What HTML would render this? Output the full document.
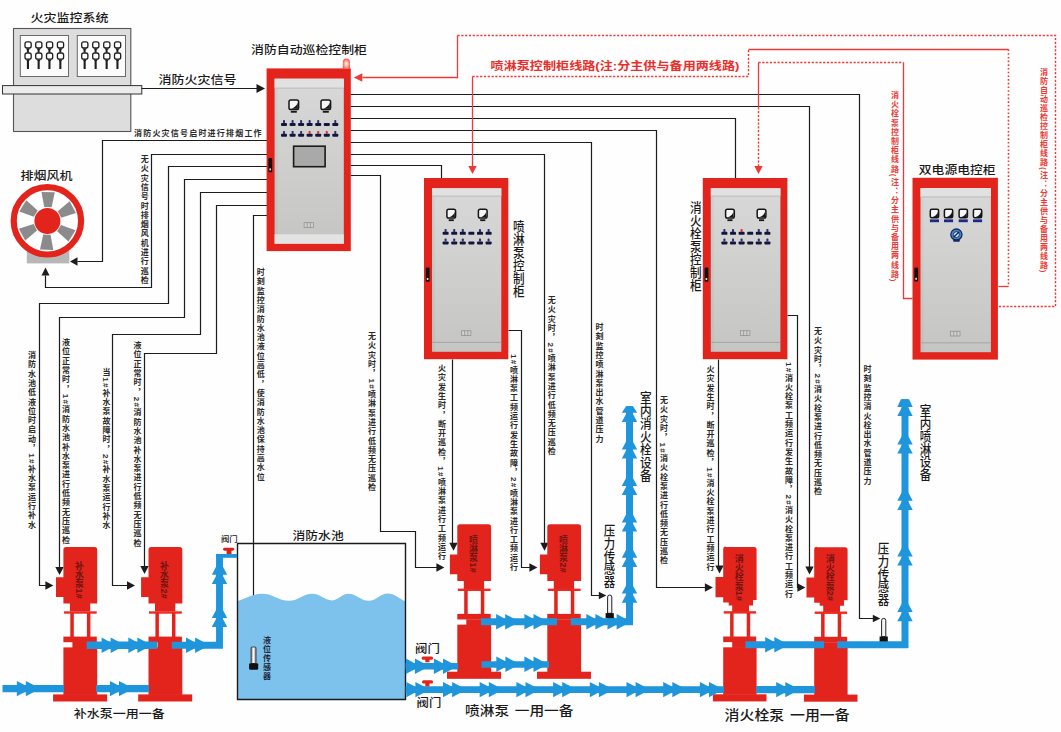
<!DOCTYPE html>
<html lang="zh-CN"><head><meta charset="utf-8"><title>消防自动巡检控制系统图</title>
<style>
html,body{margin:0;padding:0;background:#fff;}
#stage{position:relative;width:1061px;height:732px;overflow:hidden;background:#fefefe;font-family:"Liberation Sans","Noto Sans CJK SC",sans-serif;}
#stage svg{position:absolute;left:0;top:0;}
.h{position:absolute;white-space:nowrap;line-height:1.2;}
.v{position:absolute;writing-mode:vertical-rl;white-space:nowrap;line-height:1.5;width:1.5em;}
</style></head><body>
<div id="stage">
<svg width="1061" height="732" viewBox="0 0 1061 732">
<rect x="13.5" y="28.5" width="117.3" height="103.0" fill="#dddddd" stroke="#555" stroke-width="1.1" />
<rect x="20.3" y="35.5" width="48.2" height="41.0" fill="#fbfbfb" stroke="#6a6a6a" stroke-width="1" />
<rect x="77.3" y="35.5" width="48.2" height="41.0" fill="#fbfbfb" stroke="#6a6a6a" stroke-width="1" />
<rect x="2.5" y="85.6" width="139.3" height="8.4" fill="#ececec" stroke="#333" stroke-width="1" />
<rect x="25.0" y="41.8" width="6.2" height="6.2" fill="#fff" stroke="#1e1e1e" stroke-width="1.3" rx="2" />
<path d="M25.9 48.4 h4.4 l-1.4 1.6 v2.6 h-2 v-2.6 z" fill="#1e1e1e"/>
<rect x="25.0" y="53.0" width="6.2" height="6.2" fill="#fff" stroke="#1e1e1e" stroke-width="1.3" rx="2" />
<path d="M26.1 59.6 h4 l-1.1 1.6 v7.8 h-2.1 v-7.8 z" fill="#1e1e1e"/>
<rect x="35.7" y="41.8" width="6.2" height="6.2" fill="#fff" stroke="#1e1e1e" stroke-width="1.3" rx="2" />
<path d="M36.6 48.4 h4.4 l-1.4 1.6 v2.6 h-2 v-2.6 z" fill="#1e1e1e"/>
<rect x="35.7" y="53.0" width="6.2" height="6.2" fill="#fff" stroke="#1e1e1e" stroke-width="1.3" rx="2" />
<path d="M36.8 59.6 h4 l-1.1 1.6 v7.8 h-2.1 v-7.8 z" fill="#1e1e1e"/>
<rect x="46.5" y="41.8" width="6.2" height="6.2" fill="#fff" stroke="#1e1e1e" stroke-width="1.3" rx="2" />
<path d="M47.4 48.4 h4.4 l-1.4 1.6 v2.6 h-2 v-2.6 z" fill="#1e1e1e"/>
<rect x="46.5" y="53.0" width="6.2" height="6.2" fill="#fff" stroke="#1e1e1e" stroke-width="1.3" rx="2" />
<path d="M47.6 59.6 h4 l-1.1 1.6 v7.8 h-2.1 v-7.8 z" fill="#1e1e1e"/>
<rect x="57.4" y="41.8" width="6.2" height="6.2" fill="#fff" stroke="#1e1e1e" stroke-width="1.3" rx="2" />
<path d="M58.3 48.4 h4.4 l-1.4 1.6 v2.6 h-2 v-2.6 z" fill="#1e1e1e"/>
<rect x="57.4" y="53.0" width="6.2" height="6.2" fill="#fff" stroke="#1e1e1e" stroke-width="1.3" rx="2" />
<path d="M58.5 59.6 h4 l-1.1 1.6 v7.8 h-2.1 v-7.8 z" fill="#1e1e1e"/>
<rect x="81.7" y="41.8" width="6.2" height="6.2" fill="#fff" stroke="#1e1e1e" stroke-width="1.3" rx="2" />
<path d="M82.6 48.4 h4.4 l-1.4 1.6 v2.6 h-2 v-2.6 z" fill="#1e1e1e"/>
<rect x="81.7" y="53.0" width="6.2" height="6.2" fill="#fff" stroke="#1e1e1e" stroke-width="1.3" rx="2" />
<path d="M82.8 59.6 h4 l-1.1 1.6 v7.8 h-2.1 v-7.8 z" fill="#1e1e1e"/>
<rect x="92.7" y="41.8" width="6.2" height="6.2" fill="#fff" stroke="#1e1e1e" stroke-width="1.3" rx="2" />
<path d="M93.6 48.4 h4.4 l-1.4 1.6 v2.6 h-2 v-2.6 z" fill="#1e1e1e"/>
<rect x="92.7" y="53.0" width="6.2" height="6.2" fill="#fff" stroke="#1e1e1e" stroke-width="1.3" rx="2" />
<path d="M93.8 59.6 h4 l-1.1 1.6 v7.8 h-2.1 v-7.8 z" fill="#1e1e1e"/>
<rect x="103.7" y="41.8" width="6.2" height="6.2" fill="#fff" stroke="#1e1e1e" stroke-width="1.3" rx="2" />
<path d="M104.6 48.4 h4.4 l-1.4 1.6 v2.6 h-2 v-2.6 z" fill="#1e1e1e"/>
<rect x="103.7" y="53.0" width="6.2" height="6.2" fill="#fff" stroke="#1e1e1e" stroke-width="1.3" rx="2" />
<path d="M104.8 59.6 h4 l-1.1 1.6 v7.8 h-2.1 v-7.8 z" fill="#1e1e1e"/>
<rect x="114.5" y="41.8" width="6.2" height="6.2" fill="#fff" stroke="#1e1e1e" stroke-width="1.3" rx="2" />
<path d="M115.4 48.4 h4.4 l-1.4 1.6 v2.6 h-2 v-2.6 z" fill="#1e1e1e"/>
<rect x="114.5" y="53.0" width="6.2" height="6.2" fill="#fff" stroke="#1e1e1e" stroke-width="1.3" rx="2" />
<path d="M115.6 59.6 h4 l-1.1 1.6 v7.8 h-2.1 v-7.8 z" fill="#1e1e1e"/>
<polyline points="141.5,88.5 257.5,88.5" fill="none" stroke="#1c1c1c" stroke-width="1.2" />
<polygon points="265.0,88.5 256.5,83.9 256.5,93.1" fill="#1c1c1c"/>
<polyline points="267.5,140.5 102.5,140.5 102.5,261.5 77.5,261.5" fill="none" stroke="#1c1c1c" stroke-width="1.2" />
<polygon points="70.0,261.5 77.5,257.3 77.5,265.7" fill="#1c1c1c"/>
<polyline points="267.5,154.5 151.5,154.5 151.5,287.5 45.5,287.5 45.5,275.5" fill="none" stroke="#1c1c1c" stroke-width="1.2" />
<polygon points="45.5,267.6 41.5,275.6 49.5,275.6" fill="#1c1c1c"/>
<polyline points="267.5,166.5 168.5,166.5 168.5,303.5 39.5,303.5 39.5,585.5 46.5,585.5" fill="none" stroke="#1c1c1c" stroke-width="1.2" />
<polygon points="53.4,585.5 45.4,581.3 45.4,589.7" fill="#1c1c1c"/>
<polyline points="267.5,179.5 184.5,179.5 184.5,317.5 59.5,317.5 59.5,568.5" fill="none" stroke="#1c1c1c" stroke-width="1.2" />
<polygon points="59.5,575.0 55.3,567.0 63.7,567.0" fill="#1c1c1c"/>
<polyline points="267.5,192.5 200.5,192.5 200.5,334.5 112.5,334.5 112.5,585.5 128.5,585.5" fill="none" stroke="#1c1c1c" stroke-width="1.2" />
<polygon points="135.0,585.5 127.0,581.3 127.0,589.7" fill="#1c1c1c"/>
<polyline points="267.5,205.5 216.5,205.5 216.5,353.5 144.5,353.5 144.5,567.5" fill="none" stroke="#1c1c1c" stroke-width="1.2" />
<polygon points="144.5,574.0 140.3,566.0 148.7,566.0" fill="#1c1c1c"/>
<polyline points="267.5,215.5 253.5,215.5 253.5,647.5" fill="none" stroke="#1c1c1c" stroke-width="1.2" />
<polyline points="350.5,94.5 859.5,94.5 859.5,618.5 873.5,618.5" fill="none" stroke="#1c1c1c" stroke-width="1.2" />
<polygon points="880.3,618.5 872.8,614.7 872.8,622.3" fill="#1c1c1c"/>
<polyline points="350.5,106.5 809.5,106.5 809.5,567.5" fill="none" stroke="#1c1c1c" stroke-width="1.2" />
<polygon points="809.5,574.5 805.3,566.5 813.7,566.5" fill="#1c1c1c"/>
<polyline points="350.5,118.5 735.5,118.5 735.5,178.5" fill="none" stroke="#1c1c1c" stroke-width="1.2" />
<polyline points="350.5,130.5 656.5,130.5 656.5,587.5 705.5,587.5" fill="none" stroke="#1c1c1c" stroke-width="1.2" />
<polygon points="712.9,587.5 704.9,583.3 704.9,591.7" fill="#1c1c1c"/>
<polyline points="350.5,142.5 591.5,142.5 591.5,595.5 599.5,595.5" fill="none" stroke="#1c1c1c" stroke-width="1.2" />
<polygon points="606.3,595.5 598.8,591.7 598.8,599.3" fill="#1c1c1c"/>
<polyline points="350.5,154.5 544.5,154.5 544.5,543.5" fill="none" stroke="#1c1c1c" stroke-width="1.2" />
<polygon points="544.5,550.7 540.3,542.7 548.7,542.7" fill="#1c1c1c"/>
<polyline points="350.5,165.5 441.5,165.5 441.5,178.5" fill="none" stroke="#1c1c1c" stroke-width="1.2" />
<polyline points="350.5,175.5 380.5,175.5 380.5,531.5 415.5,531.5 415.5,567.5 437.5,567.5" fill="none" stroke="#1c1c1c" stroke-width="1.2" />
<polygon points="444.4,567.5 436.4,563.3 436.4,571.7" fill="#1c1c1c"/>
<polyline points="452.5,359.5 452.5,543.5" fill="none" stroke="#1c1c1c" stroke-width="1.2" />
<polygon points="453.5,550.7 449.3,542.7 457.7,542.7" fill="#1c1c1c"/>
<polyline points="508.5,330.5 521.5,330.5 521.5,567.5 530.5,567.5" fill="none" stroke="#1c1c1c" stroke-width="1.2" />
<polygon points="537.4,567.5 529.4,563.3 529.4,571.7" fill="#1c1c1c"/>
<polyline points="718.5,359.5 718.5,566.5" fill="none" stroke="#1c1c1c" stroke-width="1.2" />
<polygon points="719.5,573.5 715.3,565.5 723.7,565.5" fill="#1c1c1c"/>
<polyline points="787.5,315.5 797.5,315.5 797.5,587.5 798.5,587.5" fill="none" stroke="#1c1c1c" stroke-width="1.2" />
<polygon points="805.4,587.5 797.4,583.3 797.4,591.7" fill="#1c1c1c"/>
<polyline points="362.5,77.5 457.5,77.5 457.5,35.5" fill="none" stroke="#ee3a36" stroke-width="1.3" />
<polyline points="457.5,35.5 1055.5,35.5 1055.5,306.5 998.5,306.5" fill="none" stroke="#ee3a36" stroke-width="1.4" stroke-dasharray="2.2 1.6" />
<polygon points="353.8,77.5 362.3,73.3 362.3,81.7" fill="#ee3a36"/>
<polyline points="472.5,166.5 472.5,76.5" fill="none" stroke="#ee3a36" stroke-width="1.3" />
<polyline points="472.5,76.5 748.5,76.5 748.5,49.5" fill="none" stroke="#ee3a36" stroke-width="1.4" stroke-dasharray="2.2 1.6" />
<polyline points="748.5,49.5 1008.5,49.5" fill="none" stroke="#ee3a36" stroke-width="1.3" />
<polyline points="1008.5,49.5 1008.5,286.5" fill="none" stroke="#ee3a36" stroke-width="1.6" stroke-dasharray="1.6 2.1" />
<polyline points="1008.5,286.5 998.5,286.5" fill="none" stroke="#ee3a36" stroke-width="1.3" />
<polygon points="472.5,174.0 468.3,166.0 476.7,166.0" fill="#ee3a36"/>
<polyline points="758.5,108.5 758.5,62.5" fill="none" stroke="#ee3a36" stroke-width="1.3" />
<polyline points="758.5,166.5 758.5,108.5" fill="none" stroke="#ee3a36" stroke-width="1.4" stroke-dasharray="2.2 1.6" />
<polyline points="758.5,62.5 903.5,62.5" fill="none" stroke="#ee3a36" stroke-width="1.4" stroke-dasharray="2.2 1.6" />
<polyline points="903.5,62.5 903.5,298.5 912.5,298.5" fill="none" stroke="#ee3a36" stroke-width="1.3" />
<polygon points="758.5,174.0 754.3,166.0 762.7,166.0" fill="#ee3a36"/>
<rect x="266.6" y="68.4" width="84.2" height="182.7" fill="#e2241d" />
<linearGradient id="ga" x1="0" x2="0" y1="0" y2="1"><stop offset="0" stop-color="#d8d8d8"/><stop offset="0.45" stop-color="#d0d0cf"/><stop offset="1" stop-color="#c5c5c3"/></linearGradient>
<rect x="274.6" y="78.7" width="69.2" height="165.0" fill="url(#ga)" />
<rect x="274.6" y="78.7" width="3" height="165.0" fill="#000" opacity="0.035"/>
<rect x="274.6" y="78.7" width="69.2" height="9.4" fill="#e1e1e1" />
<line x1="274.6" x2="343.8" y1="88.1" y2="88.1" stroke="#b4b4b4" stroke-width="0.8"/>
<rect x="274.6" y="234.3" width="69.2" height="9.4" fill="#e3e3e3" />
<rect x="268.4" y="158.0" width="3.8" height="14.2" fill="#111" rx="1" />
<rect x="269.4" y="168.4" width="1.6" height="2.0" fill="#ddd" />
<rect x="304.1" y="222.7" width="9.4" height="4.8" fill="#cfcfcf" stroke="#8a8a8a" stroke-width="0.7" />
<path d="M307.2 222.7 v4.8 M310.4 222.7 v4.8" stroke="#8a8a8a" stroke-width="0.7"/>
<rect x="289.0" y="100.0" width="9.6" height="9.6" fill="#f6f6f6" stroke="#151515" stroke-width="1.5" rx="1.8" />
<path d="M291.2 108.8 h6.6 v-6.2 q-1.5 4.5 -6.6 6.2 z" fill="#151515"/>
<rect x="290.8" y="110.9" width="6.0" height="1.8" fill="#151515" />
<rect x="321.0" y="100.0" width="9.6" height="9.6" fill="#f6f6f6" stroke="#151515" stroke-width="1.5" rx="1.8" />
<path d="M323.2 108.8 h6.6 v-6.2 q-1.5 4.5 -6.6 6.2 z" fill="#151515"/>
<rect x="322.8" y="110.9" width="6.0" height="1.8" fill="#151515" />
<rect x="281.0" y="122.9" width="6.0" height="3.0" fill="#12163e" rx="0.9" />
<rect x="283.0" y="120.1" width="2.0" height="3.0" fill="#28336e" rx="0.6" />
<rect x="289.6" y="122.9" width="6.0" height="3.0" fill="#12163e" rx="0.9" />
<rect x="291.6" y="120.1" width="2.0" height="3.0" fill="#28336e" rx="0.6" />
<rect x="298.1" y="122.9" width="6.0" height="3.0" fill="#12163e" rx="0.9" />
<rect x="300.1" y="120.1" width="2.0" height="3.0" fill="#28336e" rx="0.6" />
<rect x="306.6" y="122.9" width="6.0" height="3.0" fill="#12163e" rx="0.9" />
<rect x="308.6" y="120.1" width="2.0" height="3.0" fill="#28336e" rx="0.6" />
<rect x="315.2" y="122.9" width="6.0" height="3.0" fill="#12163e" rx="0.9" />
<rect x="317.2" y="120.1" width="2.0" height="3.0" fill="#28336e" rx="0.6" />
<rect x="323.8" y="122.9" width="6.0" height="3.0" fill="#12163e" rx="0.9" />
<rect x="332.3" y="122.9" width="6.0" height="3.0" fill="#12163e" rx="0.9" />
<rect x="334.3" y="120.1" width="2.0" height="3.0" fill="#28336e" rx="0.6" />
<rect x="281.0" y="133.7" width="6.0" height="3.0" fill="#12163e" rx="0.9" />
<rect x="283.0" y="130.9" width="2.0" height="3.0" fill="#28336e" rx="0.6" />
<rect x="289.6" y="133.7" width="6.0" height="3.0" fill="#12163e" rx="0.9" />
<rect x="291.6" y="130.9" width="2.0" height="3.0" fill="#28336e" rx="0.6" />
<rect x="298.1" y="133.7" width="6.0" height="3.0" fill="#12163e" rx="0.9" />
<rect x="300.1" y="130.9" width="2.0" height="3.0" fill="#28336e" rx="0.6" />
<rect x="306.6" y="133.7" width="6.0" height="3.0" fill="#12163e" rx="0.9" />
<rect x="308.6" y="130.9" width="2.0" height="3.0" fill="#d8322c" rx="0.6" />
<rect x="315.2" y="133.7" width="6.0" height="3.0" fill="#12163e" rx="0.9" />
<rect x="317.2" y="130.9" width="2.0" height="3.0" fill="#d8322c" rx="0.6" />
<rect x="323.8" y="133.7" width="6.0" height="3.0" fill="#12163e" rx="0.9" />
<rect x="325.8" y="130.9" width="2.0" height="3.0" fill="#d8322c" rx="0.6" />
<rect x="332.3" y="133.7" width="6.0" height="3.0" fill="#12163e" rx="0.9" />
<rect x="334.3" y="130.9" width="2.0" height="3.0" fill="#28336e" rx="0.6" />
<rect x="293.6" y="146.2" width="31.5" height="20.5" fill="#a9a9a9" stroke="#1a1a1a" stroke-width="1.6" />
<radialGradient id="lamp" cx="0.5" cy="0.55" r="0.6"><stop offset="0" stop-color="#fff3ee"/><stop offset="0.35" stop-color="#ffc2b4"/><stop offset="1" stop-color="#f2453a"/></radialGradient><path d="M342.8 68.5 v-6 a3.6 4 0 0 1 7.2 0 v6 z" fill="url(#lamp)"/>
<rect x="424.0" y="178.0" width="84.3" height="181.2" fill="#e2241d" />
<linearGradient id="gb" x1="0" x2="0" y1="0" y2="1"><stop offset="0" stop-color="#d8d8d8"/><stop offset="0.45" stop-color="#d0d0cf"/><stop offset="1" stop-color="#c5c5c3"/></linearGradient>
<rect x="432.0" y="188.3" width="69.3" height="163.5" fill="url(#gb)" />
<rect x="432.0" y="188.3" width="3" height="163.5" fill="#000" opacity="0.035"/>
<rect x="432.0" y="188.3" width="69.3" height="7.8" fill="#e1e1e1" />
<line x1="432.0" x2="501.3" y1="196.1" y2="196.1" stroke="#b4b4b4" stroke-width="0.8"/>
<line x1="432.0" x2="501.3" y1="342.4" y2="342.4" stroke="#9c9c9c" stroke-width="0.8"/>
<rect x="425.8" y="267.6" width="3.8" height="14.2" fill="#111" rx="1" />
<rect x="426.8" y="278.0" width="1.6" height="2.0" fill="#ddd" />
<rect x="461.5" y="330.8" width="9.4" height="4.8" fill="#cfcfcf" stroke="#8a8a8a" stroke-width="0.7" />
<path d="M464.6 330.8 v4.8 M467.8 330.8 v4.8" stroke="#8a8a8a" stroke-width="0.7"/>
<rect x="446.9" y="209.2" width="8.7" height="8.8" fill="#f6f6f6" stroke="#151515" stroke-width="1.5" rx="1.8" />
<path d="M449.1 217.2 h5.7 v-5.4 q-1.5 4.5 -5.7 5.4 z" fill="#151515"/>
<rect x="448.7" y="219.3" width="5.1" height="1.8" fill="#151515" />
<rect x="478.4" y="209.2" width="8.7" height="8.8" fill="#f6f6f6" stroke="#151515" stroke-width="1.5" rx="1.8" />
<path d="M480.6 217.2 h5.7 v-5.4 q-1.5 4.5 -5.7 5.4 z" fill="#151515"/>
<rect x="480.2" y="219.3" width="5.1" height="1.8" fill="#151515" />
<rect x="442.6" y="231.8" width="6.0" height="3.0" fill="#12163e" rx="0.9" />
<rect x="444.6" y="229.0" width="2.0" height="3.0" fill="#28336e" rx="0.6" />
<rect x="451.2" y="231.8" width="6.0" height="3.0" fill="#12163e" rx="0.9" />
<rect x="453.2" y="229.0" width="2.0" height="3.0" fill="#28336e" rx="0.6" />
<rect x="459.8" y="231.8" width="6.0" height="3.0" fill="#12163e" rx="0.9" />
<rect x="461.8" y="229.0" width="2.0" height="3.0" fill="#28336e" rx="0.6" />
<rect x="468.4" y="231.8" width="6.0" height="3.0" fill="#12163e" rx="0.9" />
<rect x="477.0" y="231.8" width="6.0" height="3.0" fill="#12163e" rx="0.9" />
<rect x="479.0" y="229.0" width="2.0" height="3.0" fill="#28336e" rx="0.6" />
<rect x="485.6" y="231.8" width="6.0" height="3.0" fill="#12163e" rx="0.9" />
<rect x="487.6" y="229.0" width="2.0" height="3.0" fill="#28336e" rx="0.6" />
<rect x="442.6" y="241.4" width="6.0" height="3.0" fill="#12163e" rx="0.9" />
<rect x="444.6" y="238.6" width="2.0" height="3.0" fill="#28336e" rx="0.6" />
<rect x="451.2" y="241.4" width="6.0" height="3.0" fill="#12163e" rx="0.9" />
<rect x="453.2" y="238.6" width="2.0" height="3.0" fill="#28336e" rx="0.6" />
<rect x="459.8" y="241.4" width="6.0" height="3.0" fill="#12163e" rx="0.9" />
<rect x="461.8" y="238.6" width="2.0" height="3.0" fill="#28336e" rx="0.6" />
<rect x="468.4" y="241.4" width="6.0" height="3.0" fill="#12163e" rx="0.9" />
<rect x="477.0" y="241.4" width="6.0" height="3.0" fill="#12163e" rx="0.9" />
<rect x="479.0" y="238.6" width="2.0" height="3.0" fill="#28336e" rx="0.6" />
<rect x="485.6" y="241.4" width="6.0" height="3.0" fill="#12163e" rx="0.9" />
<rect x="487.6" y="238.6" width="2.0" height="3.0" fill="#28336e" rx="0.6" />
<rect x="702.8" y="178.0" width="84.6" height="181.2" fill="#e2241d" />
<linearGradient id="gc" x1="0" x2="0" y1="0" y2="1"><stop offset="0" stop-color="#d8d8d8"/><stop offset="0.45" stop-color="#d0d0cf"/><stop offset="1" stop-color="#c5c5c3"/></linearGradient>
<rect x="710.8" y="188.3" width="69.6" height="163.5" fill="url(#gc)" />
<rect x="710.8" y="188.3" width="3" height="163.5" fill="#000" opacity="0.035"/>
<rect x="710.8" y="188.3" width="69.6" height="7.8" fill="#e1e1e1" />
<line x1="710.8" x2="780.4" y1="196.1" y2="196.1" stroke="#b4b4b4" stroke-width="0.8"/>
<line x1="710.8" x2="780.4" y1="342.4" y2="342.4" stroke="#9c9c9c" stroke-width="0.8"/>
<rect x="704.6" y="267.6" width="3.8" height="14.2" fill="#111" rx="1" />
<rect x="705.6" y="278.0" width="1.6" height="2.0" fill="#ddd" />
<rect x="740.5" y="330.8" width="9.4" height="4.8" fill="#cfcfcf" stroke="#8a8a8a" stroke-width="0.7" />
<path d="M743.6 330.8 v4.8 M746.8 330.8 v4.8" stroke="#8a8a8a" stroke-width="0.7"/>
<rect x="725.6" y="209.2" width="8.7" height="8.8" fill="#f6f6f6" stroke="#151515" stroke-width="1.5" rx="1.8" />
<path d="M727.8 217.2 h5.7 v-5.4 q-1.5 4.5 -5.7 5.4 z" fill="#151515"/>
<rect x="727.4" y="219.3" width="5.1" height="1.8" fill="#151515" />
<rect x="757.2" y="209.2" width="8.7" height="8.8" fill="#f6f6f6" stroke="#151515" stroke-width="1.5" rx="1.8" />
<path d="M759.4 217.2 h5.7 v-5.4 q-1.5 4.5 -5.7 5.4 z" fill="#151515"/>
<rect x="759.0" y="219.3" width="5.1" height="1.8" fill="#151515" />
<rect x="721.4" y="231.8" width="6.0" height="3.0" fill="#12163e" rx="0.9" />
<rect x="723.4" y="229.0" width="2.0" height="3.0" fill="#28336e" rx="0.6" />
<rect x="730.0" y="231.8" width="6.0" height="3.0" fill="#12163e" rx="0.9" />
<rect x="732.0" y="229.0" width="2.0" height="3.0" fill="#28336e" rx="0.6" />
<rect x="738.6" y="231.8" width="6.0" height="3.0" fill="#12163e" rx="0.9" />
<rect x="740.6" y="229.0" width="2.0" height="3.0" fill="#d8322c" rx="0.6" />
<rect x="747.2" y="231.8" width="6.0" height="3.0" fill="#12163e" rx="0.9" />
<rect x="755.8" y="231.8" width="6.0" height="3.0" fill="#12163e" rx="0.9" />
<rect x="757.8" y="229.0" width="2.0" height="3.0" fill="#28336e" rx="0.6" />
<rect x="764.4" y="231.8" width="6.0" height="3.0" fill="#12163e" rx="0.9" />
<rect x="766.4" y="229.0" width="2.0" height="3.0" fill="#28336e" rx="0.6" />
<rect x="721.4" y="241.4" width="6.0" height="3.0" fill="#12163e" rx="0.9" />
<rect x="723.4" y="238.6" width="2.0" height="3.0" fill="#28336e" rx="0.6" />
<rect x="730.0" y="241.4" width="6.0" height="3.0" fill="#12163e" rx="0.9" />
<rect x="732.0" y="238.6" width="2.0" height="3.0" fill="#28336e" rx="0.6" />
<rect x="738.6" y="241.4" width="6.0" height="3.0" fill="#12163e" rx="0.9" />
<rect x="740.6" y="238.6" width="2.0" height="3.0" fill="#28336e" rx="0.6" />
<rect x="747.2" y="241.4" width="6.0" height="3.0" fill="#12163e" rx="0.9" />
<rect x="755.8" y="241.4" width="6.0" height="3.0" fill="#12163e" rx="0.9" />
<rect x="757.8" y="238.6" width="2.0" height="3.0" fill="#28336e" rx="0.6" />
<rect x="764.4" y="241.4" width="6.0" height="3.0" fill="#12163e" rx="0.9" />
<rect x="766.4" y="238.6" width="2.0" height="3.0" fill="#28336e" rx="0.6" />
<rect x="912.5" y="177.8" width="85.4" height="181.8" fill="#e2241d" />
<linearGradient id="gd" x1="0" x2="0" y1="0" y2="1"><stop offset="0" stop-color="#d8d8d8"/><stop offset="0.45" stop-color="#d0d0cf"/><stop offset="1" stop-color="#c5c5c3"/></linearGradient>
<rect x="920.5" y="188.1" width="70.4" height="164.1" fill="url(#gd)" />
<rect x="920.5" y="188.1" width="3" height="164.1" fill="#000" opacity="0.035"/>
<rect x="920.5" y="188.1" width="70.4" height="8.8" fill="#e1e1e1" />
<line x1="920.5" x2="990.9" y1="196.9" y2="196.9" stroke="#b4b4b4" stroke-width="0.8"/>
<line x1="920.5" x2="990.9" y1="342.8" y2="342.8" stroke="#9c9c9c" stroke-width="0.8"/>
<rect x="914.3" y="267.4" width="3.8" height="14.2" fill="#111" rx="1" />
<rect x="915.3" y="277.8" width="1.6" height="2.0" fill="#ddd" />
<rect x="950.6" y="331.2" width="9.4" height="4.8" fill="#cfcfcf" stroke="#8a8a8a" stroke-width="0.7" />
<path d="M953.7 331.2 v4.8 M956.9 331.2 v4.8" stroke="#8a8a8a" stroke-width="0.7"/>
<rect x="930.3" y="209.3" width="8.3" height="8.5" fill="#f6f6f6" stroke="#151515" stroke-width="1.5" rx="1.5" />
<path d="M932.5 217.1 h5.4 v-5.4 q-1 3.8 -5.4 5.4 z" fill="#151515"/>
<rect x="929.9" y="219.4" width="9.1" height="2.8" fill="#1b2a8a" />
<rect x="944.4" y="209.3" width="8.3" height="8.5" fill="#f6f6f6" stroke="#151515" stroke-width="1.5" rx="1.5" />
<path d="M946.6 217.1 h5.4 v-5.4 q-1 3.8 -5.4 5.4 z" fill="#151515"/>
<rect x="944.0" y="219.4" width="9.1" height="2.8" fill="#1b2a8a" />
<rect x="959.1" y="209.3" width="8.3" height="8.5" fill="#f6f6f6" stroke="#151515" stroke-width="1.5" rx="1.5" />
<path d="M961.3 217.1 h5.4 v-5.4 q-1 3.8 -5.4 5.4 z" fill="#151515"/>
<rect x="958.7" y="219.4" width="9.1" height="2.8" fill="#1b2a8a" />
<rect x="973.4" y="209.3" width="8.3" height="8.5" fill="#f6f6f6" stroke="#151515" stroke-width="1.5" rx="1.5" />
<path d="M975.6 217.1 h5.4 v-5.4 q-1 3.8 -5.4 5.4 z" fill="#151515"/>
<rect x="973.0" y="219.4" width="9.1" height="2.8" fill="#1b2a8a" />
<circle cx="956.4" cy="234.6" r="5.6" fill="#3f86c9" stroke="#14285e" stroke-width="1.3"/><circle cx="956.4" cy="234.6" r="2.9" fill="#d5e9f7" stroke="#14285e" stroke-width="0.9"/><path d="M953.6 237.2 l5.6 -5.4" stroke="#14285e" stroke-width="1.4"/><rect x="953.2" y="239" width="6.6" height="2.8" rx="0.8" fill="#14285e"/>
<rect x="26.8" y="251.0" width="42.5" height="12.4" fill="#b7b7b7" />
<circle cx="47.4" cy="220.8" r="33.7" fill="#fefefe" stroke="#e2241d" stroke-width="6.2"/>
<polygon points="44.2,207.1 51.6,207.3 54.8,192.2 41.5,191.9" fill="#8b8b8b"/>
<polygon points="57.8,211.2 61.2,217.7 75.9,213.0 69.6,201.3" fill="#8b8b8b"/>
<polygon points="61.0,225.1 57.1,231.3 68.5,241.6 75.5,230.3" fill="#8b8b8b"/>
<polygon points="50.6,234.7 43.2,234.5 40.0,249.6 53.3,249.9" fill="#8b8b8b"/>
<polygon points="37.0,230.6 33.6,224.1 18.9,228.8 25.2,240.5" fill="#8b8b8b"/>
<polygon points="33.8,216.7 37.7,210.5 26.3,200.2 19.3,211.5" fill="#8b8b8b"/>
<circle cx="47.4" cy="221" r="13" fill="#e2241d"/>
<path d="M237.2 601.3 C245 598.6 253 593.8 262.2 593.8 C273.0 593.8 278.3 600.8 289.1 600.8 C298.4 600.8 303.1 593.8 312.4 593.8 C320.3 593.8 324.2 600.4 332.1 600.4 C338.5 600.4 341.8 593.8 348.2 593.8 C356.4 593.8 360.6 600.8 368.8 600.8 C376.3 600.8 380.1 593.5 387.6 593.5 C394.5 593.5 399.5 598.6 405.2 601.3 L405.2 699.5 L237.2 699.5 Z" fill="#7dc2ec"/>
<polyline points="237.5,543.5 237.5,699.5 405.5,699.5 405.5,543.5 237.5,543.5" fill="none" stroke="#1a1a1a" stroke-width="1.4" stroke-linejoin="miter" stroke-linecap="square"/>
<linearGradient id="ls" x1="0" x2="1"><stop offset="0" stop-color="#8a8a8a"/><stop offset="0.5" stop-color="#fafafa"/><stop offset="1" stop-color="#8a8a8a"/></linearGradient>
<rect x="251.1" y="647.0" width="4.9" height="16.5" fill="url(#ls)" stroke="#222" stroke-width="0.8" rx="1" />
<rect x="249.1" y="663.2" width="9.1" height="6.6" fill="#111" rx="1.2" />
<g fill="#e2241d">
<path d="M66.0 547.0 h28.6 a2.6 2.6 0 0 1 2.6 2.6 v54 h-7 v8 h-20.3 v-8 h-6.5 v-6.6 h-7.4 v-19.8 h7.4 v-27.6 a2.6 2.6 0 0 1 2.6 -2.6 z"/>
<rect x="63.9" y="611.3" width="32.8" height="2.4" fill="#ee2a22" />
<rect x="70.3" y="613.0" width="3.5" height="24.0" fill="#e2241d" />
<rect x="86.9" y="613.0" width="3.5" height="24.0" fill="#e2241d" />
<rect x="63.4" y="636.6" width="33.4" height="5.6" fill="#e2241d" />
<rect x="72.4" y="642.0" width="24.8" height="6.0" fill="#e2241d" />
<rect x="63.4" y="647.4" width="33.8" height="47.5" fill="#e2241d" />
<rect x="53.1" y="694.4" width="54.0" height="7.1" fill="#e2241d" />
</g>
<g fill="#e2241d">
<path d="M151.1 547.0 h28.6 a2.6 2.6 0 0 1 2.6 2.6 v54 h-7 v8 h-20.3 v-8 h-6.5 v-6.6 h-7.4 v-19.8 h7.4 v-27.6 a2.6 2.6 0 0 1 2.6 -2.6 z"/>
<rect x="149.0" y="611.3" width="32.8" height="2.4" fill="#ee2a22" />
<rect x="155.4" y="613.0" width="3.5" height="24.0" fill="#e2241d" />
<rect x="172.0" y="613.0" width="3.5" height="24.0" fill="#e2241d" />
<rect x="148.5" y="636.6" width="33.4" height="5.6" fill="#e2241d" />
<rect x="157.5" y="642.0" width="24.8" height="6.0" fill="#e2241d" />
<rect x="148.5" y="647.4" width="33.8" height="47.5" fill="#e2241d" />
<rect x="138.2" y="694.4" width="54.0" height="7.1" fill="#e2241d" />
</g>
<g fill="#e2241d">
<path d="M459.9 524.3 h28.6 a2.6 2.6 0 0 1 2.6 2.6 v54 h-7 v8 h-20.3 v-8 h-6.5 v-6.6 h-7.4 v-19.8 h7.4 v-27.6 a2.6 2.6 0 0 1 2.6 -2.6 z"/>
<rect x="457.8" y="588.6" width="32.8" height="2.4" fill="#ee2a22" />
<rect x="464.2" y="590.3" width="3.5" height="24.0" fill="#e2241d" />
<rect x="480.8" y="590.3" width="3.5" height="24.0" fill="#e2241d" />
<rect x="457.3" y="613.9" width="33.4" height="5.6" fill="#e2241d" />
<rect x="466.3" y="619.3" width="24.8" height="6.0" fill="#e2241d" />
<rect x="457.3" y="624.7" width="33.8" height="47.5" fill="#e2241d" />
<rect x="447.0" y="671.7" width="54.0" height="7.1" fill="#e2241d" />
</g>
<g fill="#e2241d">
<path d="M549.9 524.3 h28.6 a2.6 2.6 0 0 1 2.6 2.6 v54 h-7 v8 h-20.3 v-8 h-6.5 v-6.6 h-7.4 v-19.8 h7.4 v-27.6 a2.6 2.6 0 0 1 2.6 -2.6 z"/>
<rect x="547.8" y="588.6" width="32.8" height="2.4" fill="#ee2a22" />
<rect x="554.2" y="590.3" width="3.5" height="24.0" fill="#e2241d" />
<rect x="570.8" y="590.3" width="3.5" height="24.0" fill="#e2241d" />
<rect x="547.3" y="613.9" width="33.4" height="5.6" fill="#e2241d" />
<rect x="556.3" y="619.3" width="24.8" height="6.0" fill="#e2241d" />
<rect x="547.3" y="624.7" width="33.8" height="47.5" fill="#e2241d" />
<rect x="537.0" y="671.7" width="54.0" height="7.1" fill="#e2241d" />
</g>
<g fill="#e2241d">
<path d="M725.8 546.9 h28.2 a2.6 2.6 0 0 1 2.6 2.6 v50.4 h-3.6 v5.6 h-4 v6.5 h-16.8 v-6.5 h-3.5 v-3 h-5.5 v-5.3 h-7.7 v-20.1 h7.7 v-28 a2.6 2.6 0 0 1 2.6 -2.6 z"/>
<rect x="723.7" y="611.2" width="32.4" height="2.4" fill="#ee2a22" />
<rect x="730.1" y="612.9" width="3.5" height="24.0" fill="#e2241d" />
<rect x="746.7" y="612.9" width="3.5" height="24.0" fill="#e2241d" />
<rect x="723.2" y="636.5" width="33.0" height="5.6" fill="#e2241d" />
<rect x="732.2" y="641.9" width="24.4" height="6.0" fill="#e2241d" />
<rect x="723.2" y="647.3" width="33.4" height="47.5" fill="#e2241d" />
<rect x="712.9" y="694.3" width="53.6" height="7.1" fill="#e2241d" />
</g>
<g fill="#e2241d">
<path d="M816.8 547.2 h28.2 a2.6 2.6 0 0 1 2.6 2.6 v50.4 h-3.6 v5.6 h-4 v6.5 h-16.8 v-6.5 h-3.5 v-3 h-5.5 v-5.3 h-7.7 v-20.1 h7.7 v-28 a2.6 2.6 0 0 1 2.6 -2.6 z"/>
<rect x="814.7" y="611.5" width="32.4" height="2.4" fill="#ee2a22" />
<rect x="821.1" y="613.2" width="3.5" height="24.0" fill="#e2241d" />
<rect x="837.7" y="613.2" width="3.5" height="24.0" fill="#e2241d" />
<rect x="814.2" y="636.8" width="33.0" height="5.6" fill="#e2241d" />
<rect x="823.2" y="642.2" width="24.4" height="6.0" fill="#e2241d" />
<rect x="814.2" y="647.6" width="33.4" height="47.5" fill="#e2241d" />
<rect x="803.9" y="694.6" width="53.6" height="7.1" fill="#e2241d" />
</g>
<polyline points="2.5,688.6 64.0,688.6" fill="none" stroke="#1f96dc" stroke-width="7.2" stroke-linejoin="miter"/>
<polyline points="96.0,688.6 149.0,688.6" fill="none" stroke="#1f96dc" stroke-width="7.2" stroke-linejoin="miter"/>
<polyline points="86.7,645.2 157.0,645.2" fill="none" stroke="#1f96dc" stroke-width="7.4" stroke-linejoin="miter"/>
<polyline points="171.8,645.2 219.5,645.2 219.5,554.0" fill="none" stroke="#1f96dc" stroke-width="6.9" stroke-linejoin="miter"/>
<polyline points="216.1,555.9 237.0,555.9" fill="none" stroke="#1f96dc" stroke-width="3.8" stroke-linejoin="miter"/>
<polygon points="40.4,688.6 25.9,680.9 25.9,696.3" fill="#1f96dc"/>
<polygon points="31.3,688.6 16.8,680.9 16.8,696.3" fill="#1f96dc"/>
<polygon points="133.5,688.6 119.0,680.9 119.0,696.3" fill="#1f96dc"/>
<polygon points="124.4,688.6 109.9,680.9 109.9,696.3" fill="#1f96dc"/>
<polygon points="125.2,645.2 110.7,637.5 110.7,652.9" fill="#1f96dc"/>
<polygon points="116.1,645.2 101.6,637.5 101.6,652.9" fill="#1f96dc"/>
<polygon points="151.9,645.2 137.4,637.5 137.4,652.9" fill="#1f96dc"/>
<polygon points="142.8,645.2 128.3,637.5 128.3,652.9" fill="#1f96dc"/>
<polygon points="209.6,645.2 195.1,637.5 195.1,652.9" fill="#1f96dc"/>
<polygon points="200.5,645.2 186.0,637.5 186.0,652.9" fill="#1f96dc"/>
<polygon points="219.5,560.3 211.8,574.8 227.2,574.8" fill="#1f96dc"/>
<polygon points="219.5,569.4 211.8,583.9 227.2,583.9" fill="#1f96dc"/>
<polygon points="219.5,603.4 211.8,617.9 227.2,617.9" fill="#1f96dc"/>
<polygon points="219.5,612.5 211.8,627.0 227.2,627.0" fill="#1f96dc"/>
<rect x="223.1" y="547.8" width="11.0" height="2.9" fill="#d9201a" rx="1.4" />
<rect x="226.6" y="550.0" width="4.9" height="4.0" fill="#d9201a" />
<polyline points="405.6,666.2 458.0,666.2" fill="none" stroke="#1f96dc" stroke-width="6.6" stroke-linejoin="miter"/>
<polyline points="481.5,664.5 549.0,664.5" fill="none" stroke="#1f96dc" stroke-width="6.6" stroke-linejoin="miter"/>
<polyline points="405.6,689.6 724.0,689.6" fill="none" stroke="#1f96dc" stroke-width="6.8" stroke-linejoin="miter"/>
<polyline points="756.0,689.6 815.0,689.6" fill="none" stroke="#1f96dc" stroke-width="7.2" stroke-linejoin="miter"/>
<polyline points="481.0,621.8 557.0,621.8" fill="none" stroke="#1f96dc" stroke-width="7" stroke-linejoin="miter"/>
<polyline points="570.8,621.8 629.5,621.8 629.5,406.2" fill="none" stroke="#1f96dc" stroke-width="7" stroke-linejoin="miter"/>
<polygon points="626.0,406.2 621.8,412.8 637.2,412.8 633.0,406.2" fill="#1f96dc"/>
<polygon points="629.5,407.4 621.8,421.9 637.2,421.9" fill="#1f96dc"/>
<polygon points="629.5,434.9 621.8,449.4 637.2,449.4" fill="#1f96dc"/>
<polygon points="629.5,444.0 621.8,458.5 637.2,458.5" fill="#1f96dc"/>
<polygon points="629.5,471.5 621.8,486.0 637.2,486.0" fill="#1f96dc"/>
<polygon points="629.5,480.6 621.8,495.1 637.2,495.1" fill="#1f96dc"/>
<polygon points="629.5,508.0 621.8,522.5 637.2,522.5" fill="#1f96dc"/>
<polygon points="629.5,517.1 621.8,531.6 637.2,531.6" fill="#1f96dc"/>
<polygon points="629.5,543.3 621.8,557.8 637.2,557.8" fill="#1f96dc"/>
<polygon points="629.5,552.4 621.8,566.9 637.2,566.9" fill="#1f96dc"/>
<polygon points="629.5,579.1 621.8,593.6 637.2,593.6" fill="#1f96dc"/>
<polygon points="629.5,588.2 621.8,602.7 637.2,602.7" fill="#1f96dc"/>
<polygon points="519.7,621.8 505.2,614.1 505.2,629.5" fill="#1f96dc"/>
<polygon points="510.6,621.8 496.1,614.1 496.1,629.5" fill="#1f96dc"/>
<polygon points="548.0,621.8 533.5,614.1 533.5,629.5" fill="#1f96dc"/>
<polygon points="538.9,621.8 524.4,614.1 524.4,629.5" fill="#1f96dc"/>
<polygon points="609.9,621.8 595.4,614.1 595.4,629.5" fill="#1f96dc"/>
<polygon points="600.8,621.8 586.3,614.1 586.3,629.5" fill="#1f96dc"/>
<polygon points="631.1,621.8 616.6,614.1 616.6,629.5" fill="#1f96dc"/>
<polygon points="622.0,621.8 607.5,614.1 607.5,629.5" fill="#1f96dc"/>
<polygon points="429.4,666.2 414.9,658.5 414.9,673.9" fill="#1f96dc"/>
<polygon points="420.3,666.2 405.8,658.5 405.8,673.9" fill="#1f96dc"/>
<polygon points="457.5,666.2 443.0,658.5 443.0,673.9" fill="#1f96dc"/>
<polygon points="448.4,666.2 433.9,658.5 433.9,673.9" fill="#1f96dc"/>
<polygon points="519.9,664.2 505.4,656.5 505.4,671.9" fill="#1f96dc"/>
<polygon points="510.8,664.2 496.3,656.5 496.3,671.9" fill="#1f96dc"/>
<polygon points="548.0,664.2 533.5,656.5 533.5,671.9" fill="#1f96dc"/>
<polygon points="538.9,664.2 524.4,656.5 524.4,671.9" fill="#1f96dc"/>
<polygon points="429.9,689.6 415.4,681.9 415.4,697.3" fill="#1f96dc"/>
<polygon points="420.8,689.6 406.3,681.9 406.3,697.3" fill="#1f96dc"/>
<polygon points="466.6,689.6 452.1,681.9 452.1,697.3" fill="#1f96dc"/>
<polygon points="457.5,689.6 443.0,681.9 443.0,697.3" fill="#1f96dc"/>
<polygon points="503.3,689.6 488.8,681.9 488.8,697.3" fill="#1f96dc"/>
<polygon points="494.2,689.6 479.7,681.9 479.7,697.3" fill="#1f96dc"/>
<polygon points="540.0,689.6 525.5,681.9 525.5,697.3" fill="#1f96dc"/>
<polygon points="530.9,689.6 516.4,681.9 516.4,697.3" fill="#1f96dc"/>
<polygon points="576.7,689.6 562.2,681.9 562.2,697.3" fill="#1f96dc"/>
<polygon points="567.6,689.6 553.1,681.9 553.1,697.3" fill="#1f96dc"/>
<polygon points="613.4,689.6 598.9,681.9 598.9,697.3" fill="#1f96dc"/>
<polygon points="604.3,689.6 589.8,681.9 589.8,697.3" fill="#1f96dc"/>
<polygon points="650.1,689.6 635.6,681.9 635.6,697.3" fill="#1f96dc"/>
<polygon points="641.0,689.6 626.5,681.9 626.5,697.3" fill="#1f96dc"/>
<polygon points="686.8,689.6 672.3,681.9 672.3,697.3" fill="#1f96dc"/>
<polygon points="677.7,689.6 663.2,681.9 663.2,697.3" fill="#1f96dc"/>
<polygon points="723.5,689.6 709.0,681.9 709.0,697.3" fill="#1f96dc"/>
<polygon points="714.4,689.6 699.9,681.9 699.9,697.3" fill="#1f96dc"/>
<polygon points="799.8,689.6 785.3,681.9 785.3,697.3" fill="#1f96dc"/>
<polygon points="790.7,689.6 776.2,681.9 776.2,697.3" fill="#1f96dc"/>
<rect x="421.7" y="656.6" width="11.3" height="3.2" fill="#e2241d" rx="1.5" />
<rect x="425.3" y="658.5" width="4.2" height="3.8" fill="#e2241d" />
<rect x="422.0" y="680.2" width="11.0" height="3.2" fill="#e2241d" rx="1.5" />
<rect x="425.3" y="682.0" width="4.2" height="4.4" fill="#e2241d" />
<polyline points="745.4,644.8 824.0,644.8" fill="none" stroke="#1f96dc" stroke-width="7" stroke-linejoin="miter"/>
<polyline points="837.2,644.8 905.0,644.8 905.0,399.2" fill="none" stroke="#1f96dc" stroke-width="7" stroke-linejoin="miter"/>
<polygon points="788.8,644.8 774.3,637.1 774.3,652.5" fill="#1f96dc"/>
<polygon points="779.7,644.8 765.2,637.1 765.2,652.5" fill="#1f96dc"/>
<polygon points="900.9,399.2 897.3,406.9 912.7,406.9 909.1,399.2" fill="#1f96dc"/>
<polygon points="905.0,401.5 897.3,416.0 912.7,416.0" fill="#1f96dc"/>
<polygon points="905.0,430.0 897.3,444.5 912.7,444.5" fill="#1f96dc"/>
<polygon points="905.0,439.1 897.3,453.6 912.7,453.6" fill="#1f96dc"/>
<polygon points="905.0,486.3 897.3,500.8 912.7,500.8" fill="#1f96dc"/>
<polygon points="905.0,495.4 897.3,509.9 912.7,509.9" fill="#1f96dc"/>
<polygon points="905.0,541.9 897.3,556.4 912.7,556.4" fill="#1f96dc"/>
<polygon points="905.0,551.0 897.3,565.5 912.7,565.5" fill="#1f96dc"/>
<polygon points="905.0,597.6 897.3,612.1 912.7,612.1" fill="#1f96dc"/>
<polygon points="905.0,606.7 897.3,621.2 912.7,621.2" fill="#1f96dc"/>
<path d="M607.6 613.3 v-16.2 a2.1 2.1 0 0 1 4.2 0 v16.2 z" fill="#f4f4f4" stroke="#222" stroke-width="1"/>
<rect x="605.6" y="613.1" width="8.2" height="5.0" fill="#111" />
<path d="M881.6 636.7 v-16.2 a2.1 2.1 0 0 1 4.2 0 v16.2 z" fill="#f4f4f4" stroke="#222" stroke-width="1"/>
<rect x="879.6" y="636.5" width="8.2" height="5.0" fill="#111" />
</svg>
<div class="h" style="left:30.5px;top:9.6px;font-size:13.00px;color:#1a1a1a;font-weight:500;transform:scaleY(0.89);">火灾监控系统</div>
<div class="h" style="left:158.5px;top:71.5px;font-size:13.00px;color:#1a1a1a;font-weight:500;transform:scaleY(0.89);">消防火灾信号</div>
<div class="h" style="left:251.0px;top:42.2px;font-size:12.90px;color:#1a1a1a;font-weight:500;transform:scaleY(0.89);">消防自动巡检控制柜</div>
<div class="v" style="left:508.1px;top:219.5px;font-size:12.90px;color:#1a1a1a;font-weight:500;transform:scaleX(0.9);">喷淋泵控制柜</div>
<div class="v" style="left:684.9px;top:200.5px;font-size:12.90px;color:#1a1a1a;font-weight:500;transform:scaleX(0.9);">消火栓泵控制柜</div>
<div class="h" style="left:918.8px;top:161.8px;font-size:12.80px;color:#1a1a1a;font-weight:500;transform:scaleY(0.89);">双电源电控柜</div>
<div class="h" style="left:20.6px;top:168.4px;font-size:13.00px;color:#1a1a1a;font-weight:500;transform:scaleY(0.89);">排烟风机</div>
<div class="h" style="left:292.5px;top:528.2px;font-size:12.80px;color:#1a1a1a;font-weight:500;transform:scaleY(0.89);">消防水池</div>
<div class="v" style="left:259.4px;top:635.8px;font-size:8.00px;color:#1e2a40;font-weight:700;letter-spacing:0.90px;">液位传感器</div>
<div class="v" style="left:71.4px;top:561.0px;font-size:9.00px;color:#701410;font-weight:700;letter-spacing:0.20px;">补水泵1#</div>
<div class="v" style="left:156.5px;top:561.0px;font-size:9.00px;color:#701410;font-weight:700;letter-spacing:0.20px;">补水泵2#</div>
<div class="v" style="left:465.4px;top:534.5px;font-size:9.00px;color:#701410;font-weight:700;letter-spacing:0.20px;">喷淋泵1#</div>
<div class="v" style="left:555.4px;top:534.5px;font-size:9.00px;color:#701410;font-weight:700;letter-spacing:0.20px;">喷淋泵2#</div>
<div class="v" style="left:731.3px;top:554.1px;font-size:9.00px;color:#701410;font-weight:700;letter-spacing:0.20px;">消火栓泵1#</div>
<div class="v" style="left:822.3px;top:554.4px;font-size:9.00px;color:#701410;font-weight:700;letter-spacing:0.20px;">消火栓泵2#</div>
<div class="h" style="left:134.0px;top:129.2px;font-size:8.00px;color:#2a2a2a;font-weight:700;letter-spacing:1.20px;">消防火灾信号启时进行排烟工作</div>
<div class="h" style="left:490.6px;top:58.0px;font-size:13.10px;color:#ea2f2b;font-weight:700;transform:scaleY(0.89);">喷淋泵控制柜线路(注:分主供与备用两线路)</div>
<div class="v" style="left:887.4px;top:91.0px;font-size:8.00px;color:#ee3a36;font-weight:700;letter-spacing:1.20px;">消火栓泵控制柜线路(注：分主供与备用两线路)</div>
<div class="v" style="left:1036.6px;top:67.6px;font-size:8.00px;color:#ee3a36;font-weight:700;letter-spacing:1.00px;">消防自动巡检控制柜线路(注：分主供与备用两线路)</div>
<div class="v" style="left:137.3px;top:154.5px;font-size:8.00px;color:#2a2a2a;font-weight:700;letter-spacing:1.30px;">无火灾信号时排烟风机进行巡检</div>
<div class="v" style="left:24.6px;top:351.0px;font-size:8.00px;color:#2a2a2a;font-weight:700;letter-spacing:1.30px;">消防水池低液位时启动，1#补水泵运行补水</div>
<div class="v" style="left:58.6px;top:338.0px;font-size:8.00px;color:#2a2a2a;font-weight:700;letter-spacing:1.30px;">液位正常时，1#消防水池补水泵进行低频无压巡检</div>
<div class="v" style="left:99.1px;top:368.0px;font-size:8.00px;color:#2a2a2a;font-weight:700;letter-spacing:1.30px;">当1#补水泵故障时，2#补水泵运行补水</div>
<div class="v" style="left:129.9px;top:340.6px;font-size:8.00px;color:#2a2a2a;font-weight:700;letter-spacing:1.30px;">液位正常时，2#消防水池补水泵进行低频无压巡检</div>
<div class="v" style="left:253.2px;top:268.0px;font-size:8.00px;color:#2a2a2a;font-weight:700;letter-spacing:1.30px;">时刻监控消防水池液位高低，使消防水池保持高水位</div>
<div class="v" style="left:364.6px;top:332.0px;font-size:8.00px;color:#2a2a2a;font-weight:700;letter-spacing:1.30px;">无火灾时，1#喷淋泵进行低频无压巡检</div>
<div class="v" style="left:434.4px;top:363.5px;font-size:8.00px;color:#2a2a2a;font-weight:700;letter-spacing:1.30px;">火灾发生时，断开巡检，1#喷淋泵进行工频运行</div>
<div class="v" style="left:506.6px;top:354.0px;font-size:8.00px;color:#2a2a2a;font-weight:700;letter-spacing:1.30px;">1#喷淋泵工频运行发生故障，2#喷淋泵进行工频运行</div>
<div class="v" style="left:544.3px;top:296.0px;font-size:8.00px;color:#2a2a2a;font-weight:700;letter-spacing:1.30px;">无火灾时，2#喷淋泵进行低频无压巡检</div>
<div class="v" style="left:592.1px;top:323.0px;font-size:8.00px;color:#2a2a2a;font-weight:700;letter-spacing:1.30px;">时刻监控喷淋泵出水管道压力</div>
<div class="v" style="left:656.4px;top:396.0px;font-size:8.00px;color:#2a2a2a;font-weight:700;letter-spacing:1.30px;">无火灾时，1#消火栓泵进行低频无压巡检</div>
<div class="v" style="left:703.1px;top:365.0px;font-size:8.00px;color:#2a2a2a;font-weight:700;letter-spacing:1.30px;">火灾发生时，断开巡检，1#消火栓泵进行工频运行</div>
<div class="v" style="left:781.6px;top:361.8px;font-size:8.00px;color:#2a2a2a;font-weight:700;letter-spacing:1.30px;">1#消火栓泵工频运行发生故障，2#消火栓泵进行工频运行</div>
<div class="v" style="left:810.6px;top:327.0px;font-size:8.00px;color:#2a2a2a;font-weight:700;letter-spacing:1.30px;">无火灾时，2#消火栓泵进行低频无压巡检</div>
<div class="v" style="left:860.1px;top:365.2px;font-size:8.00px;color:#2a2a2a;font-weight:700;letter-spacing:1.30px;">时刻监控消火栓出水管道压力</div>
<div class="v" style="left:635.1px;top:390.5px;font-size:12.90px;color:#1a1a1a;font-weight:500;transform:scaleX(0.9);">室内消火栓设备</div>
<div class="v" style="left:914.7px;top:404.2px;font-size:12.80px;color:#1a1a1a;font-weight:500;transform:scaleX(0.9);">室内喷淋设备</div>
<div class="v" style="left:597.7px;top:524.2px;font-size:12.70px;color:#1a1a1a;font-weight:500;transform:scaleX(0.9);">压力传感器</div>
<div class="v" style="left:872.1px;top:542.3px;font-size:12.70px;color:#1a1a1a;font-weight:500;transform:scaleX(0.9);">压力传感器</div>
<div class="h" style="left:221.0px;top:533.9px;font-size:8.40px;color:#222;font-weight:500;">阀门</div>
<div class="h" style="left:415.0px;top:642.0px;font-size:12.40px;color:#1a1a1a;font-weight:500;transform:scaleY(0.89);">阀门</div>
<div class="h" style="left:416.6px;top:695.8px;font-size:12.40px;color:#1a1a1a;font-weight:500;transform:scaleY(0.89);">阀门</div>
<div class="h" style="left:73.8px;top:706.4px;font-size:13.00px;color:#1a1a1a;font-weight:500;transform:scaleY(0.89);">补水泵一用一备</div>
<div class="h" style="left:465.0px;top:702.0px;font-size:14.70px;color:#1a1a1a;font-weight:500;word-spacing:1.60px;transform:scaleY(0.89);">喷淋泵 一用一备</div>
<div class="h" style="left:724.6px;top:707.2px;font-size:14.90px;color:#1a1a1a;font-weight:500;word-spacing:1.80px;transform:scaleY(0.89);">消火栓泵 一用一备</div>
</div>
</body></html>
